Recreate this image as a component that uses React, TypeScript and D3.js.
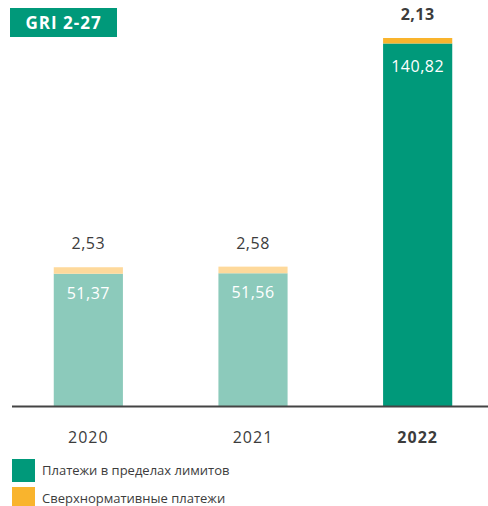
import React from "react";
import * as d3 from "d3";

const years = ["2020", "2021", "2022"];
const withinLimits = [51.37, 51.56, 140.82];
const aboveLimits = [2.53, 2.58, 2.13];
const legendLabels = ["Платежи в пределах лимитов", "Сверхнормативные платежи"];

const W = 488;
const H = 506;
const FONT = "'Open Sans', 'DejaVu Sans', sans-serif";

const fmt = (v: number) => v.toFixed(2).replace(".", ",");

export default function App() {
  const x = d3.scaleBand<string>().domain(years).range([6, 500]).paddingInner(0.58).paddingOuter(0.29);
  const y = d3.scaleLinear().domain([0, 142.95]).range([406, 38]);
  const lightGreen = "#8ccabb";
  const lightOrange = "#fed99b";
  const darkGreen = "#00997a";
  const darkOrange = "#f9b42d";
  const text = "#3c3c3c";

  return (
    <svg width={W} height={H} style={{ position: "absolute", left: 0, top: 0 }} fontFamily={FONT}>
      <rect x={10} y={8} width={107} height={29} fill={darkGreen} />
      <text x={63.5} y={28.5} textAnchor="middle" fill="#fff" fontSize={17} fontWeight={700} letterSpacing={1}>
        GRI 2-27
      </text>
      {years.map((yr, i) => {
        const last = i === years.length - 1;
        const g = withinLimits[i];
        const o = aboveLimits[i];
        const x0 = x(yr)!;
        const bw = x.bandwidth();
        const cx = x0 + bw / 2;
        return (
          <g key={yr}>
            <rect x={x0} y={y(g)} width={bw} height={y(0) - y(g)} fill={last ? darkGreen : lightGreen} />
            <rect x={x0} y={y(g + o)} width={bw} height={y(g) - y(g + o)} fill={last ? darkOrange : lightOrange} />
            <text x={cx} y={y(g) + (last ? 29 : 25)} textAnchor="middle" fill="#fff" fontSize={16} letterSpacing={0.5}>
              {fmt(g)}
            </text>
            <text x={cx} y={y(g + o) - 18} textAnchor="middle" fill={text} fontSize={16} fontWeight={last ? 700 : 400} letterSpacing={0.5}>
              {fmt(o)}
            </text>
            <text x={cx} y={443} textAnchor="middle" fill={text} fontSize={16} fontWeight={last ? 700 : 400} letterSpacing={1}>
              {yr}
            </text>
          </g>
        );
      })}
      <line x1={12} x2={488} y1={406.5} y2={406.5} stroke="#444" strokeWidth={2} />
      {legendLabels.map((l, i) => (
        <g key={l}>
          <rect x={12} y={459 + i * 28} width={23} height={i === 0 ? 23 : 19} fill={i === 0 ? darkGreen : darkOrange} />
          <text x={42} y={475 + i * 28} fill={text} fontSize={13}>
            {l}
          </text>
        </g>
      ))}
    </svg>
  );
}
